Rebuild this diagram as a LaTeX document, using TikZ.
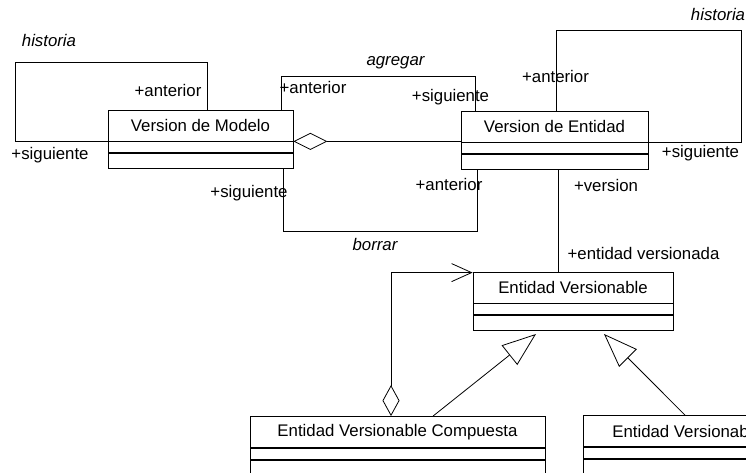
\documentclass[tikz,border=0pt]{standalone}
\usepackage{fontspec}
\setmainfont{Liberation Sans}
\usetikzlibrary{positioning,arrows.meta}

\begin{document}
\begin{tikzpicture}[x=1pt, y=-1pt, line width=0.8pt,
    font=\fontsize{16.8pt}{20pt}\selectfont,
    cls/.style={draw, inner sep=0pt, minimum height=31pt},
    comp/.style={draw, inner sep=0pt, minimum height=11pt},
    role/.style={anchor=base, inner sep=0pt},
    assoc/.style={role, font=\fontsize{16.8pt}{20pt}\selectfont\itshape},
    gen/.style={-{Triangle[open, length=34pt, width=25pt]}},
    aggr/.style={-{Diamond[open, length=34pt, width=17pt]}}]
  \useasboundingbox (0,0) rectangle (746,473);
  \clip (0,0) rectangle (746,473);

  % classes: title, attributes, operations
  \foreach \n/\x/\y/\w/\txt in {vm/200.5/125.5/185/Version de Modelo, ve/554.5/126.5/187/Version de Entidad, ev/573/287.5/200/Entidad Versionable, evc/397.5/432/295/Entidad Versionable Compuesta, evs/680.5/431/195/Entidad Versionab}
  {
    \node[cls, minimum width=\w] (\n) at (\x,\y) {\txt};
    \node[comp, minimum width=\w, below=0pt of \n] (\n2) {};
    \node[comp, minimum width=\w, minimum height=15pt, below=0pt of \n2] (\n3) {};
  }

  % associations
  \draw (vm.south west) -| (15,62) -| ([xshift=6.5pt]vm.north);
  \draw ([xshift=-12pt]vm.north east) -- ++(0,-33) -| ([xshift=15pt]ve.north west);
  \draw[aggr] (ve.south west |- vm.south east) -- (vm.south east);
  \draw ([xshift=-10pt]vm3.south east) -- ++(0,62) -| ([xshift=17pt]ve3.south west);
  \draw ([xshift=1.5pt]ve.north) |- (741,30) |- (ve.south east);
  \draw ([xshift=3.5pt]ve3.south) -- ([xshift=3.5pt]ve3.south |- ev.north);
  \draw[{Diamond[open, length=31pt, width=17pt]}-{Straight Barb[length=20pt, width=18pt]}]
    ([xshift=-6.5pt]evc.north) |- ([yshift=-1pt]ev.north west);

  % generalization
  \draw[gen] ([xshift=35.5pt]evc.north) -- ([xshift=-37pt, yshift=-3pt]ev3.south);
  \draw[gen] ([xshift=4.5pt]evs.north) -- ([xshift=31pt, yshift=-3pt]ev3.south);

  % role and association names
  \foreach \txt/\x/\y [count=\i] in {+anterior/168/97, +siguiente/50/160, +anterior/313/94, +siguiente/450.5/102, +siguiente/249/197, +anterior/449/190, +anterior/555.5/83, +siguiente/700.5/158, +version/606/191, +entidad versionada/643.5/259}
    \node[role] (r\i) at (\x,\y) {\txt};
  \foreach \txt/\x/\y [count=\i] in {historia/49/47, agregar/395.5/66, borrar/375/250, historia/718/21}
    \node[assoc] (a\i) at (\x,\y) {\txt};
\end{tikzpicture}
\end{document}
